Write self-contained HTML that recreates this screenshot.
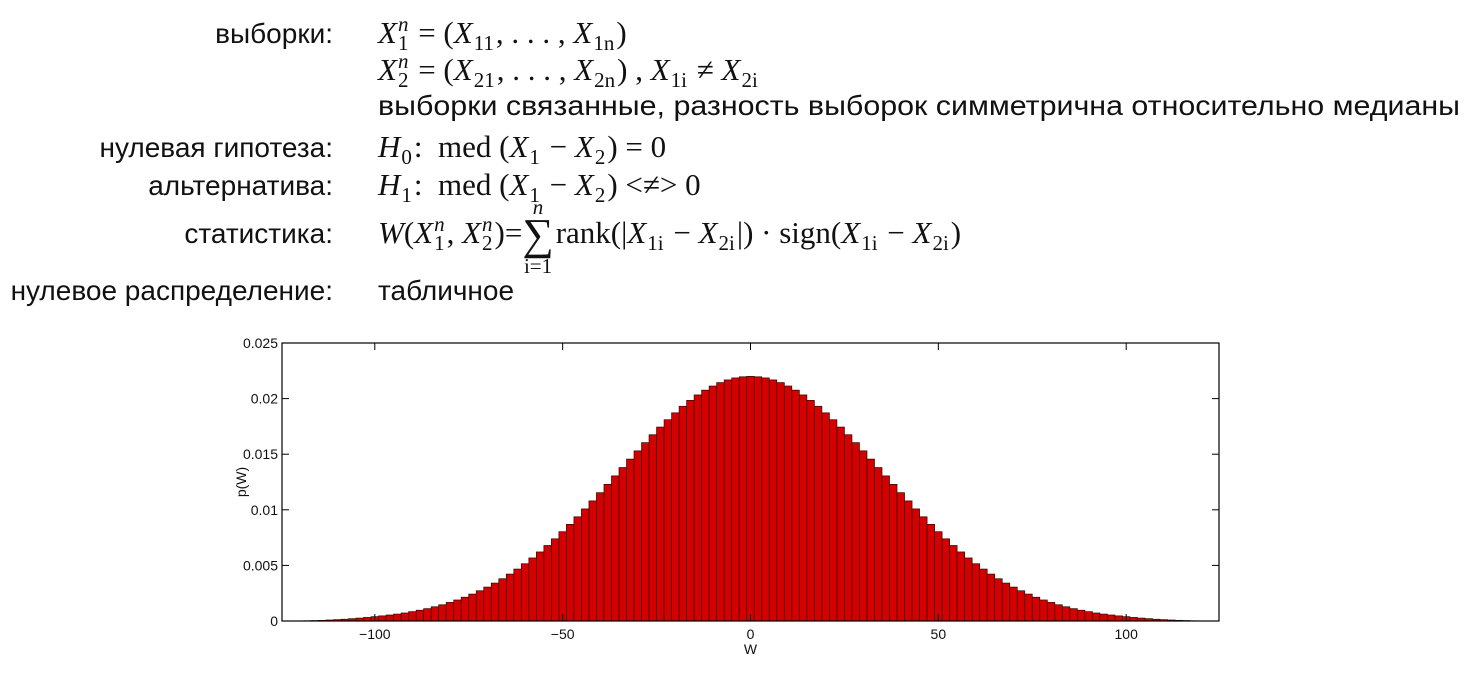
<!DOCTYPE html>
<html><head><meta charset="utf-8"><style>
html,body{margin:0;padding:0;background:#fff;width:1474px;height:679px;overflow:hidden}
svg text{font-family:"Liberation Sans",sans-serif}
.lab{font-size:28px;fill:#111}
.m{font-family:"Liberation Serif",serif;font-size:31px;fill:#111;white-space:pre}
.tick{font-size:14px;fill:#111}
</style></head><body>
<svg id="page" width="1474" height="679" viewBox="0 0 1474 679" xmlns="http://www.w3.org/2000/svg" xml:space="preserve">
<g id="text-block">
<text class="lab" x="333" y="43" text-anchor="end">выборки:</text>
<text class="lab" x="333" y="157" text-anchor="end">нулевая гипотеза:</text>
<text class="lab" x="333" y="195" text-anchor="end">альтернатива:</text>
<text class="lab" x="333" y="243" text-anchor="end">статистика:</text>
<text class="lab" x="333" y="300" text-anchor="end">нулевое распределение:</text>
<text class="lab" x="378" y="115" textLength="1082" lengthAdjust="spacingAndGlyphs">выборки связанные, разность выборок симметрична относительно медианы</text>
<text class="lab" x="378" y="300">табличное</text>
<g id="math"></g>
</g>
<g id="chart"></g>
</svg>
<script>
const categories = [];
for (let w = -120; w <= 120; w += 2) categories.push(w);
const halfProbs = [0.02200,0.02196,0.02186,0.02168,0.02144,0.02113,0.02076,0.02033,0.01984,0.01931,0.01872,0.01810,0.01744,0.01675,0.01604,0.01530,0.01456,0.01380,0.01305,0.01229,0.01154,0.01080,0.01008,0.00937,0.00869,0.00803,0.00739,0.00679,0.00621,0.00567,0.00515,0.00467,0.00422,0.00380,0.00341,0.00305,0.00272,0.00242,0.00214,0.00189,0.00167,0.00146,0.00128,0.00111,0.00097,0.00084,0.00072,0.00062,0.00054,0.00046,0.00039,0.00032,0.00026,0.00021,0.00016,0.00012,0.00009,0.00006,0.00004,0.00002,0.00001];
const probs = halfProbs.slice(1).reverse().concat(halfProbs);
const xTicks = [-100,-50,0,50,100];
const yTicks = [0,0.005,0.01,0.015,0.02,0.025];
const yTickLabels = ["0","0.005","0.01","0.015","0.02","0.025"];

const NS = "http://www.w3.org/2000/svg";
const L = 282, R = 1219, T = 343, B = 621;
const xMin = -124.7, xMax = 124.7, yMax = 0.025;
const xs = v => L + (v - xMin) / (xMax - xMin) * (R - L);
const ys = v => B - v / yMax * (B - T);
function mk(tag, attrs, parent){const e=document.createElementNS(NS,tag);for(const k in attrs)e.setAttribute(k,attrs[k]);parent.appendChild(e);return e;}

const chart = document.getElementById('chart');
const barsG = mk('g',{},chart);


categories.forEach((w,i)=>{
  const x0 = xs(w-1), x1 = xs(w+1), y = ys(probs[i]);
  const r = mk('rect',{x:x0,y:y,width:x1-x0,height:B-y,fill:'#d40000',stroke:'#3a0000','stroke-width':0.7},barsG);
  
  
});
const frame = mk('rect',{x:L,y:T,width:R-L,height:B-T,fill:'none',stroke:'#000','stroke-width':1.2},chart);


xTicks.forEach(v=>{
  const x = xs(v);
  mk('line',{x1:x,x2:x,y1:B,y2:B-7,stroke:'#000','stroke-width':1},chart);
  mk('line',{x1:x,x2:x,y1:T,y2:T+7,stroke:'#000','stroke-width':1},chart);
  const t = mk('text',{x:x,y:B+18,'text-anchor':'middle',class:'tick'},chart);
  t.textContent = (v<0?'\u2212'+(-v):String(v));
  
  
});
yTicks.forEach((v,i)=>{
  const y = ys(v);
  mk('line',{x1:L,x2:L+7,y1:y,y2:y,stroke:'#000','stroke-width':1},chart);
  mk('line',{x1:R,x2:R-7,y1:y,y2:y,stroke:'#000','stroke-width':1},chart);
  const t = mk('text',{x:L-4,y:y+5,'text-anchor':'end',class:'tick'},chart);
  t.textContent = yTickLabels[i];
  
  
});
const xt = mk('text',{x:xs(0),y:B+33,'text-anchor':'middle',class:'tick'},chart);
xt.textContent='W';


const yt = mk('text',{x:0,y:0,'text-anchor':'middle',class:'tick',transform:'translate(246,'+((T+B)/2)+') rotate(-90)'},chart);
yt.textContent='p(W)';



const mg = document.getElementById('math');
function line(x0, y, toks, name){
  const g = mk('g',{},mg);
  
  
  let x = x0;
  toks.forEach(tk=>{
    const [s, st, a, b] = tk;
    if (st==='ss'){
      let w=0;
      if(a){const t=mk('text',{x:x+1,y:y-12,class:'m',style:'font-size:21px;font-style:italic'},g);t.textContent=a;w=Math.max(w,t.getComputedTextLength());}
      if(b){const t=mk('text',{x:x+1,y:y+7,class:'m',style:'font-size:21px'},g);t.textContent=b;w=Math.max(w,t.getComputedTextLength());}
      x += w+3; return;
    }
    if (st==='sum'){
      const t=mk('text',{x:x,y:y+6,class:'m',style:'font-size:44px'},g);t.textContent='\u2211';
      const w=t.getComputedTextLength();
      const n=mk('text',{x:x+w/2,y:y-29,class:'m','text-anchor':'middle',style:'font-size:21px;font-style:italic'},g);n.textContent='n';
      const i=mk('text',{x:x+w/2,y:y+30,class:'m','text-anchor':'middle',style:'font-size:21px'},g);i.textContent='i=1';
      x += w+2; return;
    }
    const t = mk('text',{x:x,y:y,class:'m'},g);
    if(st==='i') t.setAttribute('style','font-style:italic');
    t.textContent = s;
    x += t.getComputedTextLength();
  });
}
const SUB = (s)=>['', 'ss', null, s];
line(378,43,[['X','i'],['','ss','n','1'],[' = (','r'],['X','i'],SUB('11'),[', . . . , ','r'],['X','i'],SUB('1n'),[')','r']],'sample-1-formula');
line(378,80,[['X','i'],['','ss','n','2'],[' = (','r'],['X','i'],SUB('21'),[', . . . , ','r'],['X','i'],SUB('2n'),[') , ','r'],['X','i'],SUB('1i'),[' \u2260 ','r'],['X','i'],SUB('2i')],'sample-2-formula');
line(378,157,[['H','i'],SUB('0'),[':  med (','r'],['X','i'],SUB('1'),[' \u2212 ','r'],['X','i'],SUB('2'),[') = 0','r']],'null-hypothesis-formula');
line(378,195,[['H','i'],SUB('1'),[':  med (','r'],['X','i'],SUB('1'),[' \u2212 ','r'],['X','i'],SUB('2'),[') <\u2260> 0','r']],'alternative-formula');
line(378,243,[['W','i'],['(','r'],['X','i'],['','ss','n','1'],[', ','r'],['X','i'],['','ss','n','2'],[')=','r'],['','sum'],['rank(|','r'],['X','i'],SUB('1i'),[' \u2212 ','r'],['X','i'],SUB('2i'),['|) \u00b7 sign(','r'],['X','i'],SUB('1i'),[' \u2212 ','r'],['X','i'],SUB('2i'),[')','r']],'statistic-formula');
</script>
</body></html>
